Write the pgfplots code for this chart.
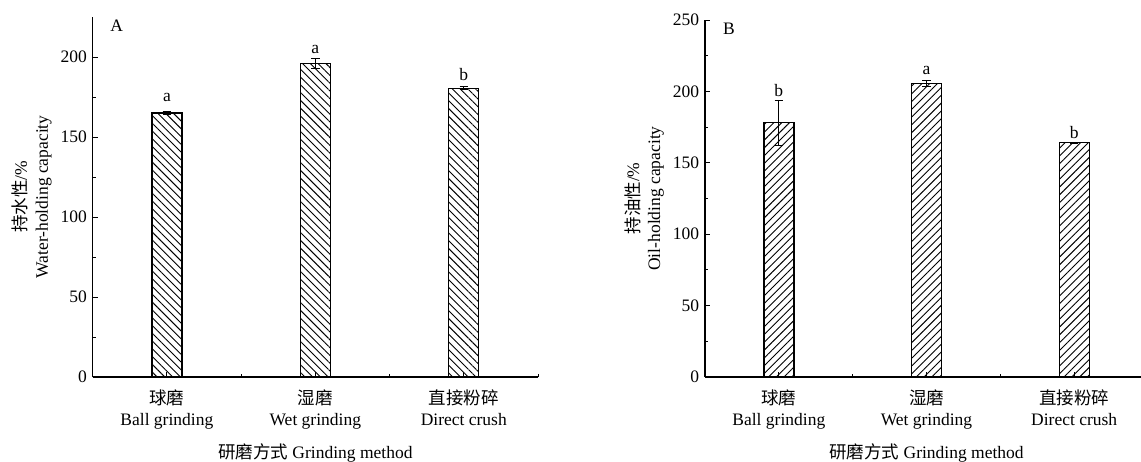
\documentclass[border=0pt]{standalone}
\usepackage{fontspec}
\setmainfont{Liberation Serif}
\newfontfamily\cjk{Noto Sans CJK SC}
\usepackage{pgfplots}
\usepackage{pgfplotstable}
\pgfplotsset{compat=1.18}
\usetikzlibrary{patterns.meta}

\pgfplotstableread{
x y e
1 165 1
2 196 3
3 180.5 1
}\dataA
\pgfplotstableread{
x y e
1 178 16
2 205.5 2
3 164 0.5
}\dataB

\pgfplotsset{
  myax/.style={
    scale only axis,
    anchor=south west,
    axis lines*=left,
    font=\fontsize{10.5}{12.6}\selectfont,
    /pgf/number format/assume math mode=true,
    axis line style={line width=0.8pt},
    tick style={line width=0.6pt, black},
    tick align=inside,
    major tick length=3pt,
    minor tick length=1.8pt,
    xmin=0.5, xmax=3.5,
    xtick={1,2,3},
    minor xtick={1.5,2.5,3.5},
    xticklabels={{{\cjk 球磨}\\Ball grinding},{{\cjk 湿磨}\\Wet grinding},{{\cjk 直接粉碎}\\Direct crush}},
    xticklabel style={align=center, yshift=-4pt},
    minor y tick num=1,
    ymin=0,
    ylabel style={align=center, yshift=-1.5pt},
    xlabel={{\cjk 研磨方式} Grinding method},
    xlabel style={yshift=-2pt},
    clip=false,
  },
}

\begin{document}
\begin{tikzpicture}
\useasboundingbox (0,0) rectangle (684.6pt,276.6pt);
% Panel A
\begin{axis}[myax,
  at={(55.6pt,50.4pt)},
  width=267.2pt, height=216pt,
  ymax=225, ytick={0,50,100,150,200},
  ylabel={{\cjk 持水性}/\%\\Water-holding capacity},
]
\addplot[ybar, bar width=18pt, draw=black, line width=0.8pt,
  pattern={Lines[angle=-45,distance=3.3pt,line width=0.55pt]},
  error bars/.cd, y dir=both, y explicit,
  error bar style={line width=0.5pt, black},
  error mark options={rotate=90, mark size=2.5pt, line width=0.5pt, black}]
  table[x=x, y=y, y error=e]{\dataA};
\node[anchor=base] at (axis cs:1,172.5) {a};
\node[anchor=base] at (axis cs:2,202.5) {a};
\node[anchor=base] at (axis cs:3,185.6) {b};
\node at (rel axis cs:0,1) [xshift=14.4pt, yshift=-5.4pt] {A};
\end{axis}
% Panel B
\begin{axis}[myax,
  at={(423pt,50.4pt)},
  width=265.8pt, height=214.2pt,
  ymax=250, ytick={0,50,100,150,200,250},
  ylabel={{\cjk 持油性}/\%\\Oil-holding capacity},
]
\addplot[ybar, bar width=18pt, draw=black, line width=0.8pt,
  pattern={Lines[angle=45,distance=3.3pt,line width=0.55pt]},
  error bars/.cd, y dir=both, y explicit,
  error bar style={line width=0.5pt, black},
  error mark options={rotate=90, mark size=2.5pt, line width=0.5pt, black}]
  table[x=x, y=y, y error=e]{\dataB};
\node[anchor=base] at (axis cs:1,196.7) {b};
\node[anchor=base] at (axis cs:2,211.7) {a};
\node[anchor=base] at (axis cs:3,167.3) {b};
\node at (rel axis cs:0,1) [xshift=14.4pt, yshift=-5.4pt] {B};
\end{axis}
\end{tikzpicture}
\end{document}
